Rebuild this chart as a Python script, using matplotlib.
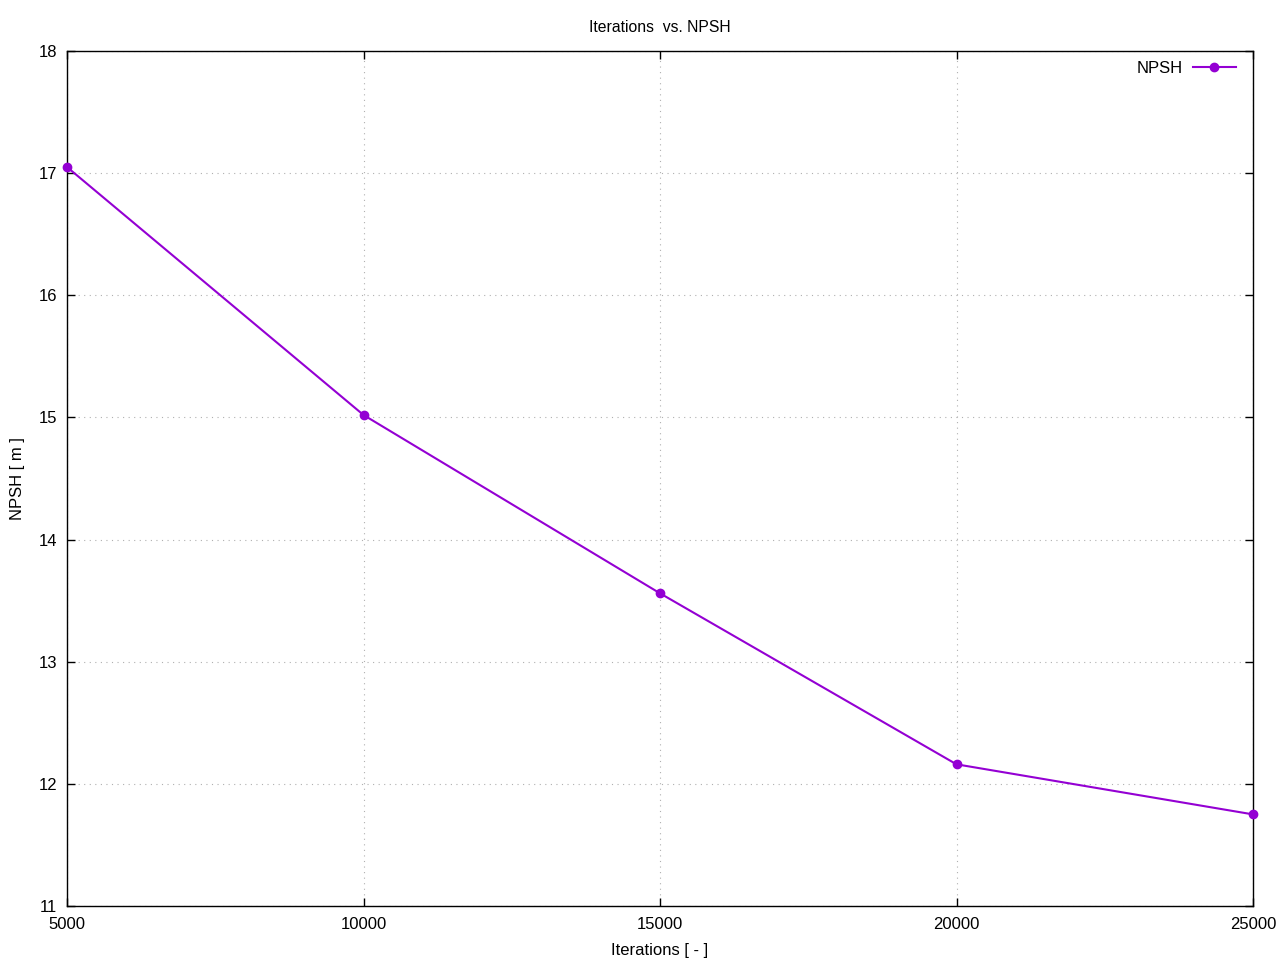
"""Iterations vs. NPSH, gnuplot-style line chart."""
import matplotlib
matplotlib.use("Agg")
import matplotlib.pyplot as plt

iterations = [5000, 10000, 15000, 20000, 25000]
npsh = [17.05, 15.02, 13.56, 12.16, 11.75]

x_ticks = [5000, 10000, 15000, 20000, 25000]
y_ticks = [11, 12, 13, 14, 15, 16, 17, 18]

plt.rcParams["font.family"] = ["Liberation Sans", "DejaVu Sans"]

fig = plt.figure(figsize=(12.8, 9.6), dpi=100)
ax = fig.add_axes([67 / 1280, 1 - 906 / 960, (1253 - 67) / 1280, (906 - 51) / 960])

ax.plot(iterations, npsh, color="#9400d3", lw=1.5, marker="o", ms=6,
        label="NPSH", clip_on=False, zorder=3)

ax.set_xlim(5000, 25000)
ax.set_ylim(11, 18)
ax.set_xticks(x_ticks)
ax.set_yticks(y_ticks)
ax.tick_params(direction="in", length=6, width=1, labelsize=12, pad=8,
               top=True, right=True)
ax.tick_params(axis="y", pad=7)
for side in ax.spines.values():
    side.set_linewidth(1)
ax.grid(True, ls=(0, (1, 4)), color="#b0b0b0", lw=0.8)

ax.set_title("Iterations  vs. NPSH", fontsize=11.3, pad=13.5)
ax.set_xlabel("Iterations [ - ]", fontsize=12, labelpad=8)
ax.set_ylabel("NPSH [ m ]", fontsize=12, labelpad=10)

ax.legend(loc="upper right", frameon=False, markerfirst=False, fontsize=12,
          handlelength=2.6, handletextpad=0.6, borderpad=0, borderaxespad=0,
          bbox_to_anchor=((1236 - 67) / 1186, 0.9887))

fig.savefig("out.png", dpi=100)
